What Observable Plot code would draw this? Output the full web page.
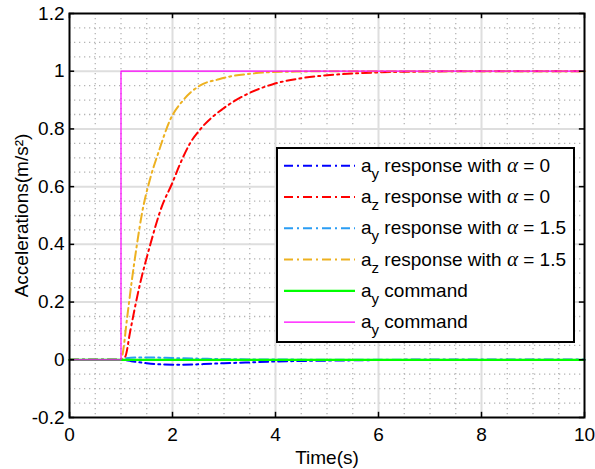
<!DOCTYPE html>
<html><head><meta charset="utf-8">
<script src="https://cdn.jsdelivr.net/npm/d3@7"></script>
<script src="https://cdn.jsdelivr.net/npm/@observablehq/plot@0.6"></script>
<style>body{margin:0;background:#fff} svg{display:block}</style>
</head><body><div id="chart"></div>
<script>
// ---- ticks ----
const xTicks = [0, 2, 4, 6, 8, 10];
const xTickLabels = ["0", "2", "4", "6", "8", "10"];
const yTicks = [-0.2, 0, 0.2, 0.4, 0.6, 0.8, 1, 1.2];
const yTickLabels = ["-0.2", "0", "0.2", "0.4", "0.6", "0.8", "1", "1.2"];
const xMinor = [0.5, 1, 1.5, 2.5, 3, 3.5, 4.5, 5, 5.5, 6.5, 7, 7.5, 8.5, 9, 9.5];
const yMinor = [-0.15, -0.1, -0.05, 0.05, 0.1, 0.15, 0.25, 0.3, 0.35, 0.45, 0.5, 0.55,
                0.65, 0.7, 0.75, 0.85, 0.9, 0.95, 1.05, 1.1, 1.15];

// ---- series ----
const tAy0 = [0, 1.0, 1.2, 1.5, 1.8, 2.2, 2.6, 3.0, 3.5, 4.0, 5.0, 6.0, 7.0, 8.0, 10];
const vAy0 = [0, 0, -0.005, -0.012, -0.016, -0.017, -0.015, -0.012, -0.009, -0.006, -0.003, -0.001, 0, 0, 0];

const tAz0 = [0, 1.0, 1.08, 1.18, 1.34, 1.57, 1.79, 1.99, 2.15, 2.34, 2.57, 2.98, 3.44, 3.95, 4.47, 5.0, 5.5, 6.0, 7.0, 8.0, 9.0, 10];
const vAz0 = [0, 0, 0.01, 0.10, 0.24, 0.40, 0.53, 0.61, 0.68, 0.75, 0.805, 0.87, 0.92, 0.955, 0.975, 0.986, 0.992, 0.996, 0.999, 1, 1, 1];

const tAy15 = [0, 1.0, 1.1, 1.3, 1.6, 2.0, 2.5, 3.0, 4.0, 5.0, 10];
const vAy15 = [0, 0, 0.005, 0.008, 0.008, 0.006, 0.004, 0.002, 0.001, 0, 0];

const tAz15 = [0, 1.0, 1.02, 1.12, 1.21, 1.31, 1.41, 1.57, 1.73, 1.95, 2.21, 2.53, 2.9, 3.18, 3.5, 3.82, 4.47, 5.0, 6.0, 8.0, 10];
const vAz15 = [0, 0, 0.01, 0.147, 0.274, 0.40, 0.51, 0.63, 0.72, 0.83, 0.90, 0.95, 0.972, 0.984, 0.991, 0.996, 0.999, 1, 1, 1, 1];

const tCmdY = [0, 10];
const vCmdY = [0, 0];
const tCmdZ = [0, 1, 1, 10];
const vCmdZ = [0, 0, 1, 1];

const legendLabels = [
  ["a", "y", " response with ", "α", " = 0"],
  ["a", "z", " response with ", "α", " = 0"],
  ["a", "y", " response with ", "α", " = 1.5"],
  ["a", "z", " response with ", "α", " = 1.5"],
  ["a", "y", " command", "", ""],
  ["a", "y", " command", "", ""]
];

const rows = (ts, vs) => ts.map((t, i) => ({t, v: vs[i]}));

const series = [
  {data: rows(tAy0, vAy0), stroke: "#0000ff", width: 2, dash: "9,4,2,4", curve: "monotone-x"},
  {data: rows(tAz0, vAz0), stroke: "#ff0000", width: 2, dash: "9,4,2,4", curve: "monotone-x"},
  {data: rows(tAy15, vAy15), stroke: "#2a9df4", width: 2, dash: "9,4,2,4", curve: "monotone-x"},
  {data: rows(tAz15, vAz15), stroke: "#edb120", width: 2, dash: "9,4,2,4", curve: "monotone-x"},
  {data: rows(tCmdY, vCmdY), stroke: "#00ff00", width: 2.2, dash: null, curve: "linear"},
  {data: rows(tCmdZ, vCmdZ), stroke: "#ff00ff", width: 1.2, dash: null, curve: "linear"}
];

const fmtY = d => yTickLabels[yTicks.findIndex(t => Math.abs(t - d) < 1e-9)];
const fmtX = d => xTickLabels[xTicks.findIndex(t => Math.abs(t - d) < 1e-9)];
const tickLenY = 0.018, tickLenX = 0.1;

const plot = Plot.plot({
  width: 595, height: 469,
  marginLeft: 69, marginRight: 11, marginTop: 13, marginBottom: 52,
  style: {fontFamily: "'Liberation Sans', Arial, sans-serif", fontSize: "19px", color: "black", background: "white", overflow: "visible"},
  x: {domain: [0, 10]},
  y: {domain: [-0.2, 1.2]},
  marks: [
    Plot.ruleX(xMinor, {stroke: "#b4b4b4", strokeWidth: 1.3, strokeDasharray: "1.3,3.7"}),
    Plot.ruleY(yMinor, {stroke: "#b4b4b4", strokeWidth: 1.3, strokeDasharray: "1.3,3.7"}),
    Plot.ruleX(xTicks.slice(1, -1), {stroke: "#dedede", strokeWidth: 2}),
    Plot.ruleY(yTicks.slice(1, -1), {stroke: "#dedede", strokeWidth: 2}),
    ...series.map(s => Plot.line(s.data, {x: "t", y: "v", stroke: s.stroke, strokeWidth: s.width,
      strokeDasharray: s.dash, curve: s.curve})),
    Plot.ruleX(xTicks, {y1: -0.2, y2: -0.2 + tickLenY, stroke: "black", strokeWidth: 1.5}),
    Plot.ruleX(xTicks, {y1: 1.2 - tickLenY, y2: 1.2, stroke: "black", strokeWidth: 1.5}),
    Plot.ruleY(yTicks, {x1: 0, x2: tickLenX, stroke: "black", strokeWidth: 1.5}),
    Plot.ruleY(yTicks, {x1: 10 - tickLenX, x2: 10, stroke: "black", strokeWidth: 1.5}),
    Plot.frame({stroke: "black", strokeWidth: 2}),
    Plot.axisX(xTicks, {tickSize: 0, tickPadding: 10, tickFormat: fmtX, label: null, fontSize: 19}),
    Plot.axisY(yTicks, {tickSize: 0, tickPadding: 5, tickFormat: fmtY, label: null, fontSize: 19}),
    Plot.text(["Time(s)"], {frameAnchor: "bottom", dy: 46, lineAnchor: "bottom", fill: "black", fontSize: 19}),
    Plot.text(["Accelerations(m/s²)"], {frameAnchor: "left", dx: -48, rotate: -90, textAnchor: "middle", fill: "black", fontSize: 19})
  ]
});

document.getElementById("chart").appendChild(plot);

// ---- legend ----
const svg = d3.select(plot);
const lg = svg.append("g").attr("font-family", "'Liberation Sans', Arial, sans-serif")
  .attr("font-size", 19).attr("text-anchor", "start");
lg.append("rect").attr("x", 277).attr("y", 148).attr("width", 297).attr("height", 194)
  .attr("fill", "white").attr("stroke", "black").attr("stroke-width", 2);
series.forEach((s, i) => {
  const y = 165.7 + i * 31.3;
  lg.append("line").attr("x1", 284).attr("x2", 355).attr("y1", y).attr("y2", y)
    .attr("stroke", s.stroke).attr("stroke-width", s.width)
    .attr("stroke-dasharray", s.dash);
  const lab = legendLabels[i];
  const t = lg.append("text").attr("x", 361).attr("y", y + 6).attr("fill", "black").attr("text-anchor", "start");
  t.append("tspan").text(lab[0]);
  t.append("tspan").attr("font-size", 15).attr("dy", 7).text(lab[1]);
  t.append("tspan").attr("dy", -7).text(lab[2]);
  if (lab[3]) t.append("tspan").attr("font-family", "'Liberation Serif', serif").attr("font-style", "italic").attr("font-size", 21).text(lab[3]);
  if (lab[4]) t.append("tspan").text(lab[4]);
});
</script></body></html>
